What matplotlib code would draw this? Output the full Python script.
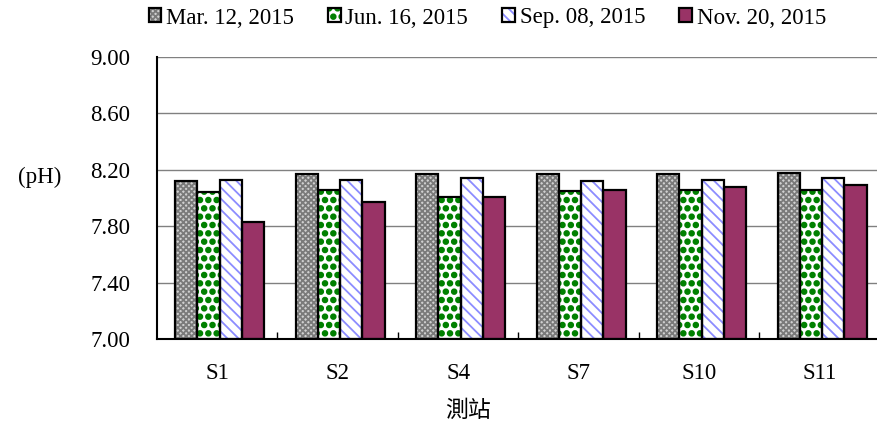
import matplotlib
matplotlib.use("Agg")
import matplotlib.pyplot as plt
import matplotlib.hatch as mhatch
import numpy as np
from matplotlib.legend_handler import HandlerTuple

# ---- data ----
stations = ["S1", "S2", "S4", "S7", "S10", "S11"]
series_names = ["Mar. 12, 2015", "Jun. 16, 2015", "Sep. 08, 2015", "Nov. 20, 2015"]
mar = [8.12, 8.17, 8.17, 8.17, 8.17, 8.18]
jun = [8.04, 8.06, 8.01, 8.05, 8.06, 8.06]
sep = [8.13, 8.13, 8.14, 8.12, 8.13, 8.14]
nov = [7.83, 7.97, 8.01, 8.06, 8.08, 8.09]
yticks = [7.00, 7.40, 7.80, 8.20, 8.60, 9.00]

# bigger filled dots for '.' hatch
mhatch.SmallFilledCircles.size = 0.28

plt.rcParams['font.family'] = ['Liberation Serif', 'DejaVu Serif']
plt.rcParams['hatch.linewidth'] = 1.3
FS = 16.5

fig = plt.figure(figsize=(8.78, 4.29), dpi=100)
ax = fig.add_axes([157/878, 1-339/429, (880-157)/878, (339-57)/429])

styles = [
    dict(face="#d0d0d0", hatch="xxxxxx", hcolor="#7a7a7a"),
    dict(face="white", hatch="..", hcolor="#008000"),
    dict(face="white", hatch="\\\\\\", hcolor="#8c8cff"),
    dict(face="#993366", hatch=None, hcolor="#993366"),
]
data = [mar, jun, sep, nov]
x = np.arange(len(stations))
w = 0.185
handles = []
base = 7.0
for i, (vals, st) in enumerate(zip(data, styles)):
    pos = x + (i - 1.5) * w + 0.02
    heights = np.array(vals) - base
    b1 = ax.bar(pos, heights, w, bottom=base, color=st["face"], hatch=st["hatch"],
                edgecolor=st["hcolor"], linewidth=0, zorder=2)
    b2 = ax.bar(pos, heights, w, bottom=base, fill=False, edgecolor="black",
                linewidth=1.6, zorder=3)
    handles.append((b1, b2))

ax.set_ylim(7.0, 9.0)
ax.set_xlim(-0.5, len(stations) - 0.5)
ax.set_yticks(yticks)
ax.set_yticklabels([f"{v:.2f}" for v in yticks])
ax.yaxis.grid(True, color="#808080", linewidth=1.0, zorder=0)
ax.set_axisbelow(True)
ax.set_xticks(x)
ax.set_xticklabels(stations)
ax.set_xticks(np.arange(len(stations)) + 0.5, minor=True)
ax.tick_params(axis="x", which="major", length=0, pad=17, labelsize=FS)
ax.tick_params(axis="x", which="minor", direction="in", length=5, width=1, color="black")
ax.tick_params(axis="y", length=0, pad=19, labelsize=FS)
for s in ["top", "right"]:
    ax.spines[s].set_visible(False)
ax.spines["left"].set_linewidth(1.5)
ax.spines["bottom"].set_linewidth(1.5)

fig.text(40/878, 1-177/429, "(pH)", fontsize=FS, ha="center", va="center")
fig.text(468/878, 1-410/429, "測站", fontsize=FS, ha="center", va="center",
         family=["Noto Sans CJK TC", "DejaVu Sans"])

fig.legend(handles, series_names, loc="center", bbox_to_anchor=(0.555, 1-18/429),
           ncol=4, frameon=False, fontsize=FS, handlelength=0.55, handleheight=0.55,
           handletextpad=0.2, columnspacing=1.5,
           handler_map={tuple: HandlerTuple(ndivide=1)})

fig.savefig("out.png", dpi=100)
